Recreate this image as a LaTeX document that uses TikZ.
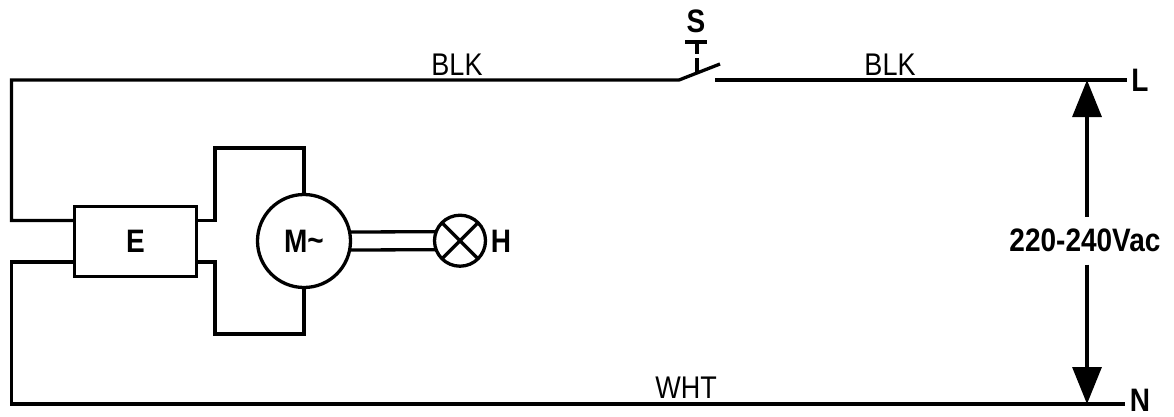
\documentclass[tikz,border=0pt]{standalone}
\usepackage{fontspec}
\setmainfont{Liberation Sans}
\usetikzlibrary{arrows.meta,calc}
\newcommand\tallText[1]{\scalebox{1}[1.16]{#1}}
\tikzset{
  wire/.style={line width=3.3pt,line cap=butt,line join=miter},
  lbl/.style={inner sep=0pt,outer sep=0pt,font=\fontsize{27}{27}\selectfont},
  blbl/.style={inner sep=0pt,outer sep=0pt,font=\fontsize{28}{28}\selectfont\bfseries},
  part/.style={draw,wire,inner sep=0pt,outer sep=0pt},
  volthead/.style={-{Triangle[length=37pt,width=29pt]}}
}
\begin{document}
\begin{tikzpicture}[x=1pt,y=-1pt]
\useasboundingbox (0,0) rectangle (1174,416);
% parts
\node[part,minimum width=122pt,minimum height=70pt,blbl] (E) at (135.5,241.5) {\tallText{E}};
\node[part,circle,minimum size=93pt,blbl] (M) at (304,241) {\tallText{M\raisebox{1pt}{\textasciitilde}}};
\node[part,circle,minimum size=51pt] (Hl) at (460,240.7) {};
\draw[wire] (Hl.north east) -- (Hl.south west) (Hl.north west) -- (Hl.south east);
\node[blbl] (H) at (501,241.5) {\tallText{H}};
% terminals and labels
\node[blbl] (Lt) at (1140,80) {\tallText{L}};
\node[blbl] (Nt) at (1140,400.5) {\tallText{N}};
\node[lbl] (b1) at (457,65) {\tallText{BLK}};
\node[lbl] (b2) at (890,65) {\tallText{BLK}};
\node[lbl] (w1) at (686,388) {\tallText{WHT}};
\node[blbl] (S) at (696,21.5) {\tallText{S}};
\node[blbl,minimum height=48pt] (V) at (1085,240.5) {\tallText{220-240Vac}};
% coordinates
\coordinate (tl) at (11.5,80);
\coordinate (bl) at (11.5,404);
\coordinate (sa) at (679,80);
\coordinate (sb) at (720,64);
\coordinate (sc) at (715,80);
\coordinate (tr) at (1127,80);
\coordinate (br) at (1125,404);
\coordinate (tapL) at (1087,80);
\coordinate (tapN) at (1087,404);
\coordinate (mt) at (304,148);
\coordinate (mb) at (304,334);
% main wires
\draw[wire] (E.west |- 0,220.5) -| (tl) -- (sa) -- (sb);
\draw[wire] (sc) -- (tr);
\draw[wire] (E.west |- 0,262) -| (bl) -- (br);
% motor wires
\draw[wire] (E.east |- 0,220.5) -| (215,148) -- (mt) -- (M.north);
\draw[wire] (E.east |- 0,262) -| (215,334) -- (mb) -- (M.south);
% shaft
\draw[wire] ($(M.center)+(46,-9)$) -- ($(Hl.center)+(-24,-9)$);
\draw[wire] ($(M.center)+(46,9)$) -- ($(Hl.center)+(-24,9)$);
% switch actuator
\draw[wire] (685,42) -- (707,42);
\draw[wire] (697,42) -- (697,54);
\draw[wire] (697,58) -- (697,72);
% voltage arrows
\draw[wire,volthead] (tapL |- V.north) -- (tapL);
\draw[wire,volthead] (tapN |- V.south) -- (tapN);
\end{tikzpicture}
\end{document}
